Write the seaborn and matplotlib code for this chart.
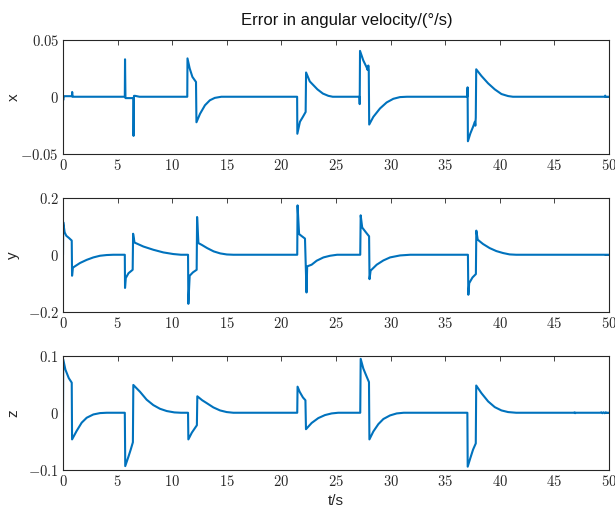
import matplotlib
matplotlib.use("Agg")
import matplotlib.pyplot as plt
import seaborn as sns
import pandas as pd

# Angular-velocity error traces (deg/s), one per axis
t_x = [0, 0.02, 0.05, 0.1, 0.82, 0.84, 0.87, 0.95, 5.66, 5.68, 5.72, 6.44, 6.46,
       6.5, 6.6, 7.0, 11.38, 11.4, 11.6, 11.85, 12.18, 12.22, 12.55, 13.0, 13.45,
       13.9, 14.5, 21.44, 21.46, 21.7, 21.95, 22.22, 22.26, 22.6, 22.9, 23.3, 23.8,
       24.3, 24.7, 27.15, 27.17, 27.2, 27.5, 27.8, 27.9, 27.96, 28.0, 28.04, 28.42,
       29.03, 29.64, 30.25, 30.86, 31.5, 37.02, 37.05, 37.08, 37.3, 37.55, 37.72,
       37.76, 37.8, 37.84, 38.32, 38.93, 39.54, 40.15, 40.76, 41.2, 49.6, 49.65,
       49.7, 50]
err_x = [0, -0.003, 0.0005, 0.0005, 0.0005, 0.0042, 0, 0, 0, 0.033, -0.0012,
         -0.0012, -0.0345, 0.0008, 0.0008, 0, 0, 0.0338, 0.025, 0.0175, 0.013,
         -0.0225, -0.015, -0.0075, -0.0031, -0.001, 0, 0, -0.0326, -0.022, -0.018,
         -0.0134, 0.0214, 0.0135, 0.0105, 0.0065, 0.0028, 0.0008, 0, 0, -0.0065,
         0.0404, 0.032, 0.026, 0.0235, 0.0275, 0.024, -0.0245, -0.0177, -0.0103,
         -0.005, -0.0018, -0.0003, 0, 0, 0.0083, -0.0392, -0.0324, -0.0265, -0.022,
         -0.0255, -0.0183, 0.0242, 0.0183, 0.0118, 0.0065, 0.0024, 0.0006, 0, 0,
         0.001, 0, 0]

t_y = [0, 0.02, 0.15, 0.3, 0.55, 0.8, 0.83, 0.9, 1.0, 1.56, 2.17, 2.78, 3.39, 4.0,
       4.6, 5.66, 5.68, 5.75, 6.0, 6.38, 6.42, 6.55, 7.36, 8.27, 9.19, 10.1, 10.8,
       11.45, 11.48, 11.6, 11.9, 12.24, 12.28, 12.4, 12.7, 13.2, 13.8, 14.4, 15.0,
       15.6, 21.45, 21.48, 21.62, 21.85, 22.16, 22.3, 22.36, 22.77, 23.23, 23.85,
       24.46, 25.1, 27.22, 27.26, 27.4, 27.8, 28.03, 28.07, 28.17, 28.73, 29.34,
       29.95, 30.87, 31.8, 37.08, 37.12, 37.2, 37.5, 37.81, 37.85, 37.98, 38.46,
       39.07, 39.68, 40.3, 40.9, 41.5, 50]
err_y = [0, 0.115, 0.079, 0.067, 0.059, 0.05, -0.074, -0.046, -0.043, -0.029,
         -0.018, -0.0094, -0.0035, -0.001, 0, 0, -0.117, -0.082, -0.065, -0.053,
         0.074, 0.043, 0.029, 0.0176, 0.0082, 0.0025, 0, 0, -0.173, -0.074, -0.062,
         -0.053, 0.133, 0.041, 0.035, 0.0235, 0.0118, 0.0047, 0.001, 0, 0, 0.174,
         0.073, 0.066, 0.057, -0.133, -0.041, -0.035, -0.021, -0.0094, -0.0035, 0,
         0, 0.139, 0.096, 0.076, 0.065, -0.086, -0.056, -0.035, -0.02, -0.0094,
         -0.0024, 0, 0, -0.141, -0.1, -0.08, -0.068, 0.085, 0.053, 0.038, 0.0235,
         0.013, 0.006, 0.0012, 0, 0]

t_z = [0, 0.02, 0.22, 0.53, 0.8, 0.83, 1.25, 1.71, 2.17, 2.78, 3.39, 4.0, 5.66,
       5.7, 6.0, 6.2, 6.4, 6.44, 7.05, 7.66, 8.27, 8.88, 9.5, 10.2, 10.8, 11.45,
       11.48, 11.8, 12.26, 12.3, 12.75, 13.16, 13.77, 14.38, 14.99, 15.6, 21.45,
       21.48, 21.67, 21.97, 22.2, 22.25, 22.77, 23.38, 23.99, 24.6, 25.2, 27.22,
       27.26, 27.5, 27.8, 28.02, 28.06, 28.42, 28.88, 29.34, 29.95, 30.56, 31.2,
       37.03, 37.06, 37.3, 37.55, 37.8, 37.84, 38.32, 38.93, 39.54, 40.15, 40.76,
       41.5, 46.8, 46.85, 46.9, 46.95, 49.2, 49.3, 49.4, 49.5, 49.6, 49.7, 49.8, 50]
err_z = [0, 0.094, 0.076, 0.061, 0.053, -0.047, -0.032, -0.0175, -0.0088, -0.003,
         -0.0006, 0, 0, -0.094, -0.077, -0.065, -0.052, 0.049, 0.037, 0.023,
         0.0135, 0.007, 0.003, 0.0006, 0, 0, -0.047, -0.035, -0.022, 0.029, 0.022,
         0.017, 0.0094, 0.0041, 0.0012, 0, 0, 0.046, 0.037, 0.027, 0.022, -0.029,
         -0.018, -0.0094, -0.0041, -0.0012, 0, 0, 0.095, 0.078, 0.064, 0.054,
         -0.047, -0.033, -0.02, -0.011, -0.0047, -0.0012, 0, 0, -0.095, -0.08,
         -0.065, -0.054, 0.048, 0.0345, 0.02, 0.0099, 0.0041, 0.0012, 0, 0, 0.0008,
         -0.0008, 0, 0, 0.0008, -0.0008, 0.0008, -0.0008, 0.0008, 0, 0]

panel_names = ["x", "y", "z"]
y_limits = [0.05, 0.2, 0.1]
y_tick_labels = [[r"$-0.05$", r"$0$", r"$0.05$"],
                 [r"$-0.2$", r"$0$", r"$0.2$"],
                 [r"$-0.1$", r"$0$", r"$0.1$"]]
x_ticks = list(range(0, 51, 5))

sns.set_theme(style="white")
plt.rcParams["font.family"] = ["Liberation Sans", "DejaVu Sans"]
plt.rcParams["mathtext.fontset"] = "cm"

line_color = "#0072BD"
fig = plt.figure(figsize=(6.15, 5.12), dpi=100)
fig.patch.set_facecolor("white")

left, width = 63 / 615, 546 / 615
tops = [40, 198, 356]
height_px = 113.5

series = [(t_x, err_x), (t_y, err_y), (t_z, err_z)]
for i, (tt, ee) in enumerate(series):
    top = tops[i]
    ax = fig.add_axes([left, 1 - (top + height_px) / 512, width, height_px / 512])
    df = pd.DataFrame({"t": tt, "err": ee})
    sns.lineplot(data=df, x="t", y="err", ax=ax, sort=False, estimator=None,
                 color=line_color, linewidth=1.5)
    lim = y_limits[i]
    ax.set_xlim(0, 50)
    ax.set_ylim(-lim, lim)
    ax.set_xticks(x_ticks)
    ax.set_xticklabels([rf"${v}$" for v in x_ticks], fontsize=10.5, color="#262626")
    ax.set_yticks([-lim, 0, lim])
    ax.set_yticklabels(y_tick_labels[i], fontsize=10.5, color="#262626")
    ax.tick_params(direction="in", length=3.5, width=0.6, top=True, right=True,
                   pad=3, colors="#262626")
    for s in ax.spines.values():
        s.set_color("#262626")
        s.set_linewidth(0.8)
    ax.set_facecolor("white")
    ax.set_ylabel(panel_names[i], fontsize=11, color="#262626")
    ax.yaxis.set_label_coords(-0.078, 0.5)
    if i == 2:
        ax.set_xlabel("t/s", fontsize=11, color="#262626", labelpad=4)
    else:
        ax.set_xlabel("")

fig.text(347 / 615, 1 - 20 / 512, "Error in angular velocity/(°/s)",
         ha="center", va="center", fontsize=12, color="#111111")

fig.savefig("out.png", dpi=100, facecolor="white")
